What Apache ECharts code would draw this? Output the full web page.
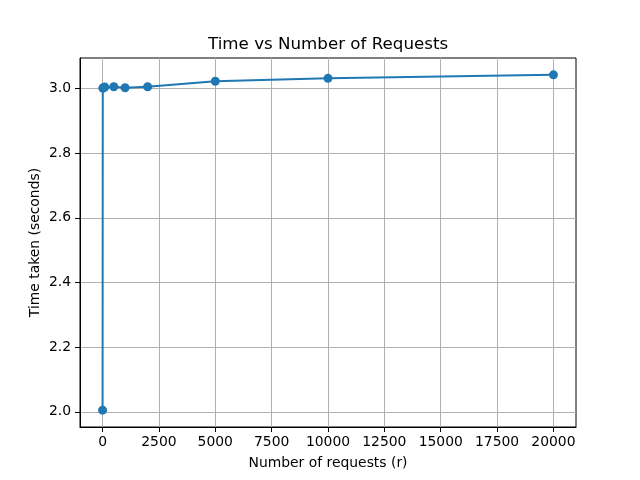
<!DOCTYPE html>
<html><head><meta charset="utf-8">
<script src="https://cdn.jsdelivr.net/npm/echarts@6/dist/echarts.min.js"></script>
<style>html,body{margin:0;padding:0;background:#fff}#c{width:640px;height:480px}</style>
</head><body><div id="c"></div>
<script>
const requests = [1, 10, 50, 100, 500, 1000, 2000, 5000, 10000, 20000];
const times = [2.005, 3.001, 3.002, 3.004, 3.005, 3.002, 3.005, 3.022, 3.031, 3.042];
const xTicks = [0, 2500, 5000, 7500, 10000, 12500, 15000, 17500, 20000];
const yTicks = [2.0, 2.2, 2.4, 2.6, 2.8, 3.0];

const font = 'DejaVu Sans';
const chart = echarts.init(document.getElementById('c'), null, {renderer: 'canvas'});
chart.setOption({
  animation: false,
  title: {text: 'Time vs Number of Requests', left: 203, top: 31,
    textStyle: {fontFamily: font, fontSize: 16.7, fontWeight: 'normal', color: '#000'}},
  grid: {left: 80, right: 64, top: 58, bottom: 53, show: true, borderColor: '#000', borderWidth: 1, backgroundColor: 'transparent'},
  xAxis: {
    type: 'value', min: -1000, max: 21000,
    name: 'Number of requests (r)', nameLocation: 'middle', nameGap: 29, nameMoveOverlap: false,
    nameTextStyle: {fontFamily: font, fontSize: 13.9, color: '#000'},
    axisLine: {show: true, onZero: false, lineStyle: {color: '#000', width: 1}},
    axisTick: {show: true, inside: false, length: 5, customValues: xTicks, lineStyle: {color: '#000'}},
    axisLabel: {customValues: xTicks, margin: 8, fontFamily: font, fontSize: 13.9, color: '#000', formatter: v => String(v)},
    splitLine: {show: true, lineStyle: {color: '#b0b0b0', width: 1}}
  },
  yAxis: {
    type: 'value', min: 1.953, max: 3.094,
    name: 'Time taken (seconds)', nameLocation: 'middle', nameGap: 38, nameMoveOverlap: false,
    nameTextStyle: {fontFamily: font, fontSize: 13.9, color: '#000'},
    axisLine: {show: true, onZero: false, lineStyle: {color: '#000', width: 1}},
    axisTick: {show: true, inside: false, length: 5, customValues: yTicks, lineStyle: {color: '#000'}},
    axisLabel: {customValues: yTicks, margin: 9, fontFamily: font, fontSize: 13.9, color: '#000', formatter: v => v.toFixed(1)},
    splitLine: {show: true, lineStyle: {color: '#b0b0b0', width: 1}}
  },
  series: [{
    type: 'line', data: requests.map((r, i) => [r, times[i]]),
    symbol: 'circle', symbolSize: 9, showAllSymbol: true,
    lineStyle: {color: '#1f77b4', width: 2},
    itemStyle: {color: '#1f77b4'}
  }]
});
</script></body></html>
